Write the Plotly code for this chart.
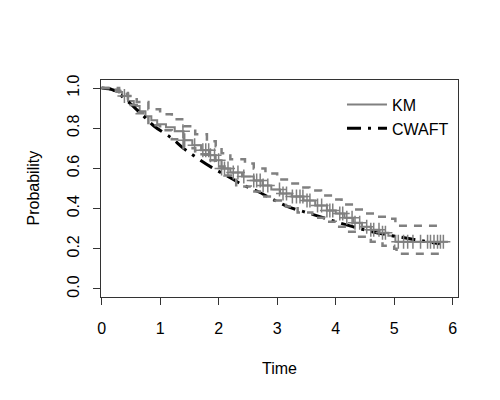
import numpy as np
import plotly.graph_objects as go

# Kaplan-Meier estimate (step function)
km_time = [0, 0.15, 0.25, 0.35, 0.45, 0.55, 0.65, 0.75, 0.85, 0.95, 1.1, 1.25, 1.4, 1.55,
           1.7, 1.85, 1.95, 2.05, 2.2, 2.4, 2.6, 2.75, 2.9, 3.05, 3.25, 3.45, 3.65, 3.85,
           4.0, 4.15, 4.3, 4.45, 4.6, 4.75, 4.9, 5.02, 5.92]
km_surv = [1.0, 0.993, 0.98, 0.96, 0.935, 0.91, 0.885, 0.86, 0.84, 0.82, 0.805, 0.785, 0.74,
           0.715, 0.69, 0.665, 0.64, 0.60, 0.58, 0.56, 0.54, 0.515, 0.495, 0.475, 0.46, 0.44,
           0.415, 0.39, 0.375, 0.355, 0.33, 0.31, 0.295, 0.28, 0.265, 0.235, 0.235]

# confidence bands
up_time = [0, 0.2, 0.3, 0.45, 0.6, 0.8, 1.0, 1.2, 1.4, 1.6, 1.8, 1.95, 2.05, 2.2, 2.45, 2.6,
           2.8, 3.0, 3.2, 3.4, 3.55, 3.75, 3.95, 4.1, 4.3, 4.5, 4.7, 4.9, 5.02, 5.83]
up_surv = [1.0, 1.0, 0.985, 0.96, 0.93, 0.895, 0.87, 0.845, 0.81, 0.77, 0.735, 0.71, 0.675,
           0.645, 0.625, 0.60, 0.575, 0.545, 0.525, 0.505, 0.49, 0.465, 0.445, 0.42, 0.395,
           0.375, 0.36, 0.35, 0.315, 0.315]
lo_time = [0, 0.2, 0.3, 0.45, 0.6, 0.8, 1.0, 1.2, 1.4, 1.6, 1.8, 1.95, 2.1, 2.3, 2.55, 2.75,
           2.95, 3.15, 3.35, 3.6, 3.8, 4.0, 4.2, 4.35, 4.6, 4.8, 5.0, 5.04, 5.85]
lo_surv = [1.0, 0.99, 0.97, 0.915, 0.875, 0.815, 0.79, 0.745, 0.70, 0.67, 0.64, 0.61, 0.565,
           0.51, 0.485, 0.46, 0.44, 0.41, 0.38, 0.355, 0.335, 0.31, 0.285, 0.26, 0.235, 0.215,
           0.20, 0.175, 0.175]

# CWAFT fitted curve
cw_time = [0, 0.2, 0.3, 0.5, 0.7, 0.9, 1.2, 1.4, 1.64, 1.88, 2.16, 2.4, 2.67, 2.9, 3.18,
           3.45, 3.73, 4.0, 4.29, 4.55, 4.87, 5.17, 5.47, 5.78]
cw_surv = [1.0, 0.99, 0.97, 0.92, 0.865, 0.81, 0.75, 0.70, 0.65, 0.605, 0.56, 0.52, 0.485,
           0.45, 0.41, 0.385, 0.36, 0.335, 0.31, 0.29, 0.27, 0.255, 0.24, 0.225]

# censoring times
cens_time = [0.39, 1.42, 1.59, 1.39, 1.73, 1.78, 1.83, 1.86, 1.93, 2.0, 2.05, 2.1, 2.16,
             2.25, 2.33, 2.43, 2.6, 2.65, 2.71, 2.76, 2.84, 3.04, 3.1, 3.16, 3.26, 3.33,
             3.39, 3.44, 3.51, 3.56, 3.69, 3.76, 3.85, 3.9, 3.95, 4.07, 4.12, 4.19, 4.28,
             4.33, 4.41, 4.53, 4.6, 4.65, 4.74, 4.8, 4.85, 5.07, 5.16, 5.23, 5.32, 5.45,
             5.57, 5.62, 5.68, 5.74, 5.79, 5.84]

GRAY = "#808080"

# survival value at each censoring time from the KM step function
idx = np.searchsorted(km_time, cens_time, side="right") - 1
cens_surv = [km_surv[i] for i in idx]

fig = go.Figure()
fig.add_trace(go.Scatter(x=km_time, y=km_surv, mode="lines", line_shape="hv",
                         line=dict(color=GRAY, width=2), name="KM"))
fig.add_trace(go.Scatter(x=cw_time, y=cw_surv, mode="lines", line_shape="spline",
                         line=dict(color="black", width=3, dash="14px,7px,3px,7px"),
                         name="CWAFT"))
fig.add_trace(go.Scatter(x=up_time, y=up_surv, mode="lines", line_shape="hv",
                         line=dict(color=GRAY, width=2.5, dash="8px,7px"), showlegend=False))
fig.add_trace(go.Scatter(x=lo_time, y=lo_surv, mode="lines", line_shape="hv",
                         line=dict(color=GRAY, width=2.5, dash="8px,7px"), showlegend=False))
fig.add_trace(go.Scatter(x=cens_time, y=cens_surv, mode="markers",
                         marker=dict(symbol="cross-thin", size=10,
                                     line=dict(color=GRAY, width=1.5)),
                         showlegend=False))

axis_common = dict(showgrid=False, zeroline=False, showline=True, mirror=True,
                   linecolor="#333333", linewidth=1, ticks="outside", ticklen=7,
                   tickcolor="#333333", tickfont=dict(size=16, color="black"),
                   automargin=False)

# the page body adds an 8px offset, so margins are shifted by that
fig.update_layout(
    width=500, height=400,
    margin=dict(l=93, r=50, t=72, b=111),
    paper_bgcolor="white", plot_bgcolor="white",
    font=dict(family="Liberation Sans, Arial, sans-serif", size=16, color="black"),
    xaxis=dict(range=[-0.01, 6.09], tickvals=[0, 1, 2, 3, 4, 5, 6],
               ticklabelstandoff=10, **axis_common),
    yaxis=dict(range=[-0.04, 1.04], tickvals=[0, 0.2, 0.4, 0.6, 0.8, 1.0],
               ticktext=["0.0", "0.2", "0.4", "0.6", "0.8", "1.0"], tickangle=-90,
               ticklabelstandoff=8, **axis_common),
    legend=dict(x=0.675, y=0.965, xanchor="left", yanchor="top", itemwidth=40,
                bgcolor="rgba(0,0,0,0)", font=dict(size=16)),
    annotations=[
        dict(text="Time", x=0.5, y=-(368 - 297) / 217, xref="paper", yref="paper",
             yanchor="middle", showarrow=False, font=dict(size=16)),
        dict(text="Probability", textangle=-90, showarrow=False, font=dict(size=16),
             xref="paper", yref="paper", x=-(101 - 33) / 357, y=0.5, xanchor="center"),
    ],
)

fig.write_html("out.html")
